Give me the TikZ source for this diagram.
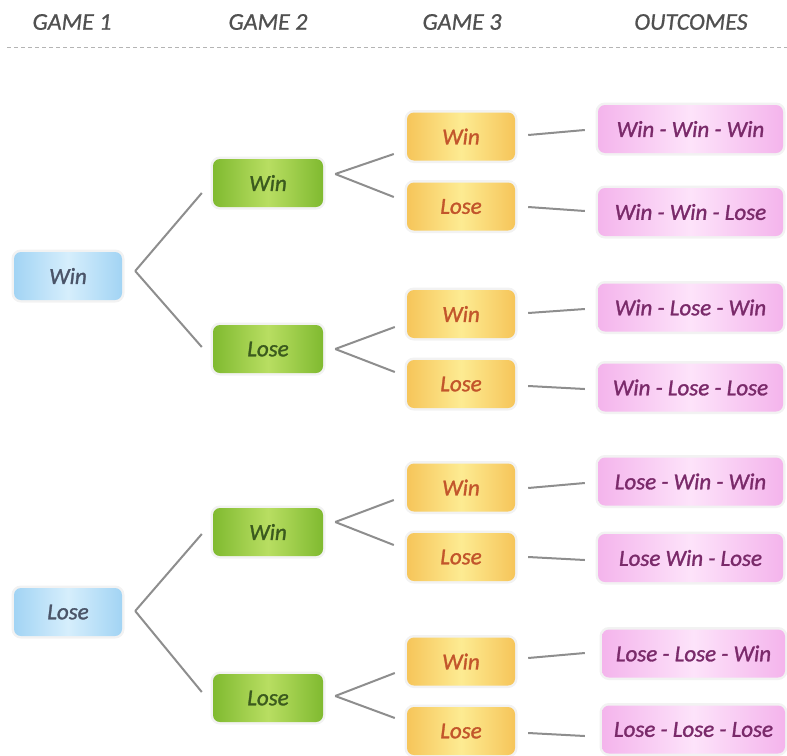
\documentclass[tikz,border=0pt]{standalone}
\usepackage{fontspec}
\setmainfont{Carlito}
\newfontfamily\boxfont[FakeBold=1.3]{Carlito}
\newfontfamily\headfont[FakeBold=0.8]{Carlito}
\usetikzlibrary{calc}

\definecolor{headgray}{HTML}{505050}
\definecolor{rulegray}{HTML}{B4B4B4}
\definecolor{linegray}{HTML}{8E8E8E}
\definecolor{blueE}{HTML}{A2D4F4}
\definecolor{blueC}{HTML}{D6EEFC}
\definecolor{blueT}{HTML}{4A5468}
\definecolor{greenE}{HTML}{80BA30}
\definecolor{greenC}{HTML}{B8DE62}
\definecolor{greenT}{HTML}{3B5A1E}
\definecolor{yellowE}{HTML}{F6C55A}
\definecolor{yellowC}{HTML}{FDEB92}
\definecolor{yellowT}{HTML}{C2552B}
\definecolor{pinkE}{HTML}{F4B4EC}
\definecolor{pinkC}{HTML}{FDE3FA}
\definecolor{pinkT}{HTML}{7A2A6A}

% connector between two named boxes, with small offsets at both ends
\newcommand\conn[4]{\draw[link] ($(#1.east)+(#2)$) -- ($(#3.west)+(#4)$);}

\begin{document}
\begin{tikzpicture}[x=1pt,y=-1pt,
  box/.style={rounded corners=7pt, minimum height=48pt, inner sep=0pt,
    font=\boxfont\itshape\fontsize{23}{23}\selectfont,
    preaction={draw=black!5, line width=5pt}},
  gone/.style={box, minimum width=108pt, left color=blueE, right color=blueE, middle color=blueC, text=blueT},
  gtwo/.style={box, minimum width=110pt, left color=greenE, right color=greenE, middle color=greenC, text=greenT},
  gthree/.style={box, minimum width=108pt, left color=yellowE, right color=yellowE, middle color=yellowC, text=yellowT},
  outc/.style={box, minimum width=185pt, left color=pinkE, right color=pinkE, middle color=pinkC, text=pinkT},
  head/.style={font=\headfont\itshape\fontsize{24}{24}\selectfont, text=headgray},
  link/.style={draw=linegray, line width=2pt}]

\useasboundingbox (0,0) rectangle (787,755);

% column headings and rule
\node[head] (h1) at (72,22) {GAME 1};
\node[head] (h2) at (268,22) {GAME 2};
\node[head] (h3) at (462,22) {GAME 3};
\node[head] (h4) at (691,22) {OUTCOMES};
\coordinate (ruleL) at (7,47);
\coordinate (ruleR) at (787,47);
\draw[rulegray, line width=1pt, dash pattern=on 4pt off 3pt] (ruleL) -- (ruleR);

% game 1
\node[gone] (aw) at (68,276) {Win};
\node[gone] (al) at (68,612) {Lose};

% game 2
\node[gtwo] (bww) at (268,183) {Win};
\node[gtwo] (bwl) at (268,349) {Lose};
\node[gtwo] (blw) at (268,532) {Win};
\node[gtwo] (bll) at (268,698) {Lose};

% game 3
\node[gthree] (c1) at (461,136.5) {Win};
\node[gthree] (c2) at (461,206.5) {Lose};
\node[gthree] (c3) at (461,314) {Win};
\node[gthree] (c4) at (461,384) {Lose};
\node[gthree] (c5) at (461,487.5) {Win};
\node[gthree] (c6) at (461,557) {Lose};
\node[gthree] (c7) at (461,661.5) {Win};
\node[gthree] (c8) at (461,731) {Lose};

% outcomes
\node[outc] (o1) at (690.5,129) {Win - Win - Win};
\node[outc] (o2) at (690.5,212) {Win - Win - Lose};
\node[outc] (o3) at (690.5,307.5) {Win - Lose - Win};
\node[outc] (o4) at (690.5,387.5) {Win - Lose - Lose};
\node[outc] (o5) at (690.5,481.5) {Lose - Win - Win};
\node[outc] (o6) at (690.5,558) {Lose Win - Lose};
\node[outc, minimum width=183pt] (o7) at (693.5,653.5) {Lose - Lose - Win};
\node[outc, minimum width=183pt] (o8) at (693.5,729.5) {Lose - Lose - Lose};

% game 1 -> game 2
\conn{aw}{13,-5}{bww}{-11,10}
\conn{aw}{13,-5}{bwl}{-11,-2}
\conn{al}{13,-1}{blw}{-11,2}
\conn{al}{13,-1}{bll}{-11,-6}

% game 2 -> game 3
\conn{bww}{12,-9}{c1}{-13,17.5}
\conn{bww}{12,-9}{c2}{-13,-9.5}
\conn{bwl}{12,0}{c3}{-12,13}
\conn{bwl}{12,0}{c4}{-12,-12}
\conn{blw}{12,-10}{c5}{-13,12.5}
\conn{blw}{12,-10}{c6}{-13,-12}
\conn{bll}{12,-2}{c7}{-12,11.5}
\conn{bll}{12,-2}{c8}{-12,-13}

% game 3 -> outcomes
\conn{c1}{13,-1.5}{o1}{-13,1}
\conn{c2}{13,0.5}{o2}{-13,-1}
\conn{c3}{13,-1}{o3}{-13,1.5}
\conn{c4}{13,2}{o4}{-13,1.5}
\conn{c5}{13,0.5}{o5}{-13,1.5}
\conn{c6}{13,0}{o6}{-13,2}
\conn{c7}{13,-3.5}{o7}{-17,-0.5}
\conn{c8}{13,2}{o8}{-17,6.5}

\end{tikzpicture}
\end{document}
